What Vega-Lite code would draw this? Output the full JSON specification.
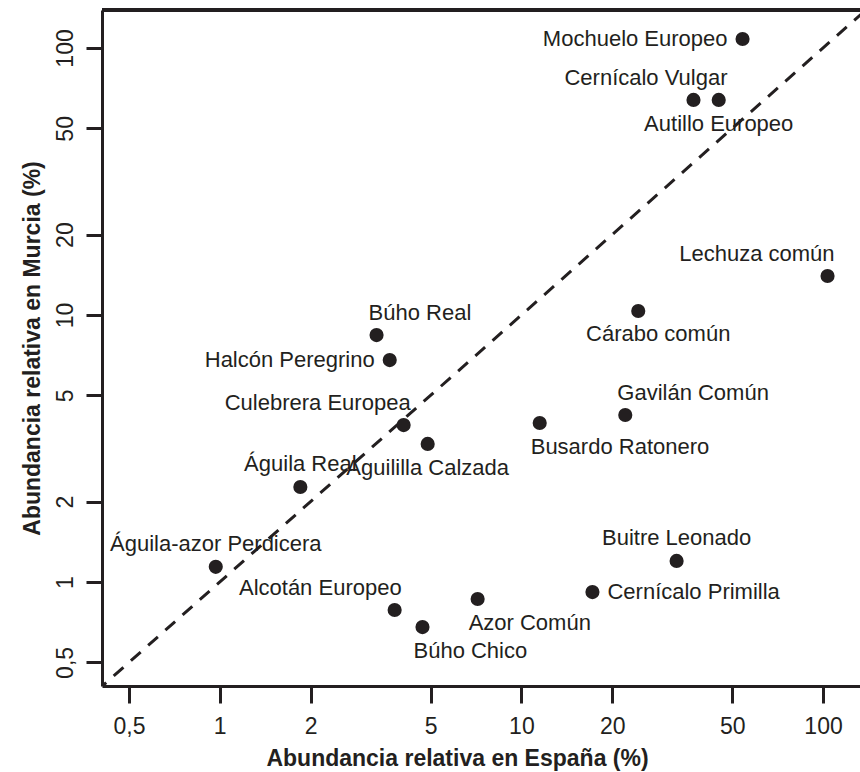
{
  "$schema": "https://vega.github.io/schema/vega-lite/v6.json",
  "autosize": "none",
  "width": 758,
  "height": 676,
  "padding": {"left": 102, "top": 10, "right": 0, "bottom": 86},
  "background": "white",
  "config": {
    "view": {"stroke": null},
    "font": "Liberation Sans",
    "text": {"font": "Liberation Sans", "fontSize": 22, "color": "#231f20"}
  },
  "datasets": {
    "aves": [
      {"especie": "Mochuelo Europeo", "espana": 54.1, "murcia": 108},
      {"especie": "Cernícalo Vulgar", "espana": 37.2, "murcia": 63.9},
      {"especie": "Autillo Europeo", "espana": 45.1, "murcia": 63.9},
      {"especie": "Lechuza común", "espana": 103.5, "murcia": 14.0},
      {"especie": "Cárabo común", "espana": 24.4, "murcia": 10.35},
      {"especie": "Búho Real", "espana": 3.31, "murcia": 8.41},
      {"especie": "Halcón Peregrino", "espana": 3.66, "murcia": 6.78},
      {"especie": "Culebrera Europea", "espana": 4.07, "murcia": 3.87},
      {"especie": "Aguililla Calzada", "espana": 4.89, "murcia": 3.29},
      {"especie": "Busardo Ratonero", "espana": 11.5, "murcia": 3.94},
      {"especie": "Gavilán Común", "espana": 22.1, "murcia": 4.22},
      {"especie": "Águila Real", "espana": 1.85, "murcia": 2.27},
      {"especie": "Águila-azor Perdicera", "espana": 0.97, "murcia": 1.14},
      {"especie": "Buitre Leonado", "espana": 32.7, "murcia": 1.2},
      {"especie": "Cernícalo Primilla", "espana": 17.2, "murcia": 0.917},
      {"especie": "Alcotán Europeo", "espana": 3.8, "murcia": 0.786},
      {"especie": "Búho Chico", "espana": 4.7, "murcia": 0.678},
      {"especie": "Azor Común", "espana": 7.16, "murcia": 0.864}
    ],
    "diagonal": [
      {"espana": 0.3, "murcia": 0.3},
      {"espana": 200, "murcia": 200}
    ]
  },
  "encoding": {
    "x": {
      "field": "espana", "type": "quantitative",
      "scale": {"type": "log", "domain": [0.407, 132.6], "nice": false, "zero": false},
      "axis": {
        "orient": "bottom",
        "title": "Abundancia relativa en España (%)",
        "values": [0.5, 1, 2, 5, 10, 20, 50, 100],
        "format": "~g",
        "labelExpr": "replace(datum.label, '.', ',')",
        "grid": false,
        "domainColor": "#231f20", "domainWidth": 3,
        "tickColor": "#231f20", "tickWidth": 3, "tickSize": 17,
        "labelFont": "Liberation Sans", "labelFontSize": 23, "labelColor": "#231f20",
        "labelBaseline": "alphabetic", "labelPadding": 30,
        "labelFlush": false, "labelOverlap": false,
        "titleFont": "Liberation Sans", "titleFontSize": 23, "titleFontWeight": "bold", "titleColor": "#231f20",
        "titleBaseline": "alphabetic", "titleX": 355, "titleY": 79, "titleAlign": "center"
      }
    },
    "y": {
      "field": "murcia", "type": "quantitative",
      "scale": {"type": "log", "domain": [0.408, 138.7], "nice": false, "zero": false},
      "axis": {
        "orient": "left",
        "title": "Abundancia relativa en Murcia (%)",
        "values": [0.5, 1, 2, 5, 10, 20, 50, 100],
        "format": "~g",
        "labelExpr": "replace(datum.label, '.', ',')",
        "grid": false,
        "domainColor": "#231f20", "domainWidth": 3,
        "tickColor": "#231f20", "tickWidth": 3, "tickSize": 16,
        "labelFont": "Liberation Sans", "labelFontSize": 23, "labelColor": "#231f20",
        "labelAngle": -90, "labelAlign": "center", "labelBaseline": "alphabetic", "labelPadding": 14,
        "labelFlush": false, "labelOverlap": false,
        "titleFont": "Liberation Sans", "titleFontSize": 23, "titleFontWeight": "bold", "titleColor": "#231f20",
        "titleBaseline": "alphabetic", "titleX": -63, "titleAngle": -90
      }
    }
  },
  "layer": [
    {
      "data": {"name": "diagonal"},
      "mark": {"type": "line", "clip": true, "color": "#231f20", "strokeWidth": 3, "strokeDash": [13, 10]},
      "encoding": {}
    },
    {
      "data": {"name": "aves"},
      "mark": {"type": "point", "filled": true, "shape": "circle", "size": 200, "color": "#231f20", "opacity": 1},
      "encoding": {}
    },
    {
      "data": {"name": "aves"},
      "mark": {"type": "rule", "color": "#231f20", "strokeWidth": 3},
      "encoding": {
        "y": {"datum": 138.7, "type": "quantitative"},
        "x": {"value": 0},
        "x2": {"value": 758}
      }
    },
    {
      "data": {"name": "aves"},
      "transform": [{"filter": {"field": "especie", "oneOf": ["Mochuelo Europeo", "Halcón Peregrino"]}}],
      "mark": {"type": "text", "align": "right", "baseline": "middle", "dx": -15},
      "encoding": {"text": {"field": "especie"}}
    },
    {
      "data": {"name": "aves"},
      "transform": [{"filter": {"field": "especie", "oneOf": ["Cernícalo Primilla"]}}],
      "mark": {"type": "text", "align": "left", "baseline": "middle", "dx": 15},
      "encoding": {"text": {"field": "especie"}}
    },
    {
      "data": {"name": "aves"},
      "transform": [{"filter": {"field": "especie", "oneOf": ["Águila Real", "Águila-azor Perdicera", "Buitre Leonado"]}}],
      "mark": {"type": "text", "align": "center", "baseline": "middle", "dy": -23},
      "encoding": {"text": {"field": "especie"}}
    },
    {
      "data": {"name": "aves"},
      "transform": [{"filter": {"field": "especie", "oneOf": ["Autillo Europeo", "Aguililla Calzada"]}}],
      "mark": {"type": "text", "align": "center", "baseline": "middle", "dy": 24},
      "encoding": {"text": {"field": "especie"}}
    },
    {
      "data": {"name": "aves"},
      "transform": [{"filter": {"field": "especie", "oneOf": ["Cárabo común"]}}],
      "mark": {"type": "text", "align": "center", "baseline": "middle", "dy": 23, "dx": 20},
      "encoding": {"text": {"field": "especie"}}
    },
    {
      "data": {"name": "aves"},
      "transform": [{"filter": {"field": "especie", "oneOf": ["Culebrera Europea", "Alcotán Europeo", "Lechuza común"]}}],
      "mark": {"type": "text", "align": "right", "baseline": "middle", "dy": -22, "dx": 7},
      "encoding": {"text": {"field": "especie"}}
    },
    {
      "data": {"name": "aves"},
      "transform": [{"filter": {"field": "especie", "oneOf": ["Cernícalo Vulgar"]}}],
      "mark": {"type": "text", "align": "right", "baseline": "middle", "dy": -22, "dx": 34},
      "encoding": {"text": {"field": "especie"}}
    },
    {
      "data": {"name": "aves"},
      "transform": [{"filter": {"field": "especie", "oneOf": ["Gavilán Común", "Búho Real"]}}],
      "mark": {"type": "text", "align": "left", "baseline": "middle", "dy": -22, "dx": -8},
      "encoding": {"text": {"field": "especie"}}
    },
    {
      "data": {"name": "aves"},
      "transform": [{"filter": {"field": "especie", "oneOf": ["Busardo Ratonero", "Búho Chico", "Azor Común"]}}],
      "mark": {"type": "text", "align": "left", "baseline": "middle", "dy": 24, "dx": -9},
      "encoding": {"text": {"field": "especie"}}
    }
  ]
}
